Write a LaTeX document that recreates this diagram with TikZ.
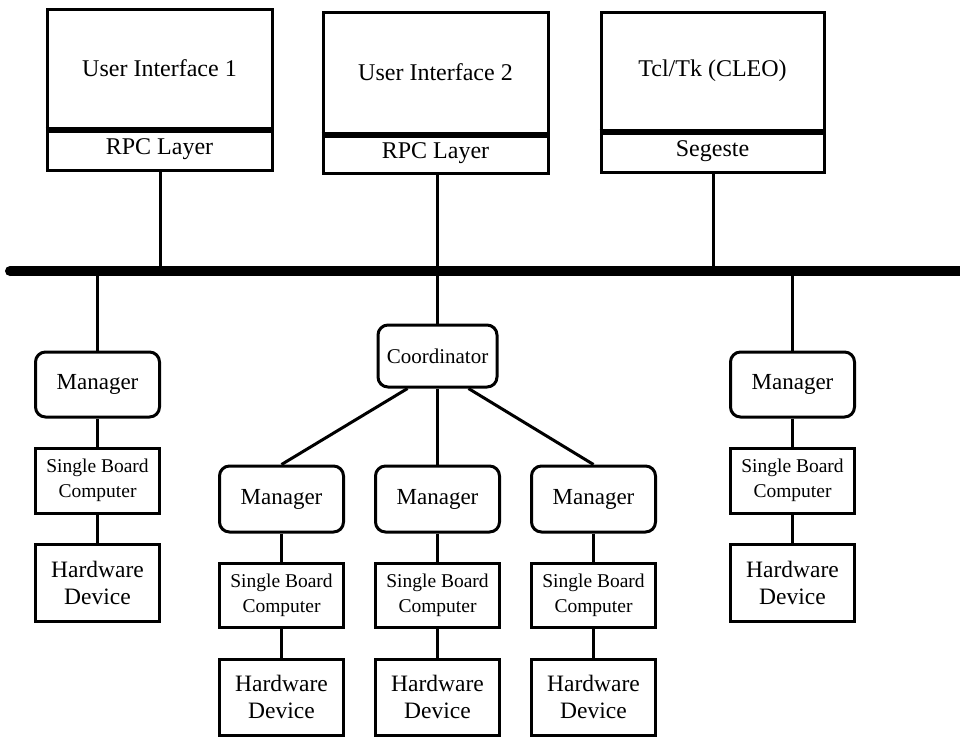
\documentclass[tikz,border=0pt]{standalone}
\usepackage{fontspec}
\setmainfont{Liberation Serif}
\usetikzlibrary{calc}
\tikzset{
  box/.style={draw, line width=3pt, inner sep=0pt, align=center, font=\fontsize{24}{26}\selectfont},
  topbox/.style={box, minimum width=225pt},
  mgr/.style={box, rounded corners=10pt, minimum width=124pt, minimum height=65pt, font=\fontsize{23}{25}\selectfont},
  sbc/.style={box, minimum width=124pt, minimum height=65pt, font=\fontsize{19.5}{25}\selectfont},
  hw/.style={box, minimum width=124pt, minimum height=77pt, font=\fontsize{23.5}{27}\selectfont},
  link/.style={line width=3pt},
  sep/.style={line width=6pt},
  bus/.style={line width=10pt}
}
\begin{document}
\begin{tikzpicture}[x=1pt, y=-1pt]
\useasboundingbox (0,0) rectangle (960,737);
% top boxes
\node[topbox, minimum height=119pt] (ui1) at (159.5,68.5) {User Interface 1};
\node[topbox, minimum height=42pt] (rpc1) at (159.5,149) {RPC Layer};
\node[topbox, minimum height=121pt] (ui2) at (435.5,72.5) {User Interface 2};
\node[topbox, minimum height=40pt] (rpc2) at (435.5,153) {RPC Layer};
\node[topbox, minimum width=223pt, minimum height=118pt] (tcl) at (712.5,71) {Tcl/Tk (CLEO)};
\node[topbox, minimum width=223pt, minimum height=42pt] (seg) at (712.5,151) {Segeste};
\draw[sep] (ui1.south west) -- (ui1.south east);
\draw[sep] (ui2.south west) -- (ui2.south east);
\draw[sep] (tcl.south west) -- (tcl.south east);
% bus
\coordinate (busL) at (10,271);
\coordinate (busR) at (965,271);
\draw[bus] (busL) -- (busR);
\fill (busL) circle (5pt);
\draw[link] (rpc1.south -| 160,0) -- (160,271);
\draw[link] (rpc2.south -| 437,0) -- (437,271);
\draw[link] (seg.south -| 713,0) -- (713,271);
% left chain
\node[mgr] (m1) at (97.5,384.5) {Manager};
\node[sbc] (s1) at (97.5,480.5) {Single Board\\Computer};
\node[hw] (h1) at (97.5,582.5) {Hardware\\Device};
% right chain
\node[mgr] (m5) at (792.5,384.5) {Manager};
\node[sbc] (s5) at (792.5,480.5) {Single Board\\Computer};
\node[hw] (h5) at (792.5,582.5) {Hardware\\Device};
% coordinator
\node[mgr, minimum width=119pt, minimum height=62pt, font=\fontsize{21}{23}\selectfont] (co) at (437.5,356) {Coordinator};
% middle chains
\node[mgr, minimum height=66pt] (m2) at (281.5,499) {Manager};
\node[sbc, minimum height=64pt] (s2) at (281.5,595) {Single Board\\Computer};
\node[hw, minimum height=76pt] (h2) at (281.5,697) {Hardware\\Device};
\node[mgr, minimum height=66pt] (m3) at (437.5,499) {Manager};
\node[sbc, minimum height=64pt] (s3) at (437.5,595) {Single Board\\Computer};
\node[hw, minimum height=76pt] (h3) at (437.5,697) {Hardware\\Device};
\node[mgr, minimum height=66pt] (m4) at (593.5,499) {Manager};
\node[sbc, minimum height=64pt] (s4) at (593.5,595) {Single Board\\Computer};
\node[hw, minimum height=76pt] (h4) at (593.5,697) {Hardware\\Device};
% connectors
\draw[link] (m1 |- busL) -- (m1.north);
\draw[link] (m5 |- busL) -- (m5.north);
\draw[link] (co |- busL) -- (co.north);
\draw[link] (m1) -- (s1);
\draw[link] (s1) -- (h1);
\draw[link] (m5) -- (s5);
\draw[link] (s5) -- (h5);
\draw[link] ($(co.south)+(-30,0)$) -- (m2.north);
\draw[link] (co.south) -- (m3.north);
\draw[link] ($(co.south)+(31,0)$) -- (m4.north);
\draw[link] (m2) -- (s2);
\draw[link] (s2) -- (h2);
\draw[link] (m3) -- (s3);
\draw[link] (s3) -- (h3);
\draw[link] (m4) -- (s4);
\draw[link] (s4) -- (h4);
\end{tikzpicture}
\end{document}
